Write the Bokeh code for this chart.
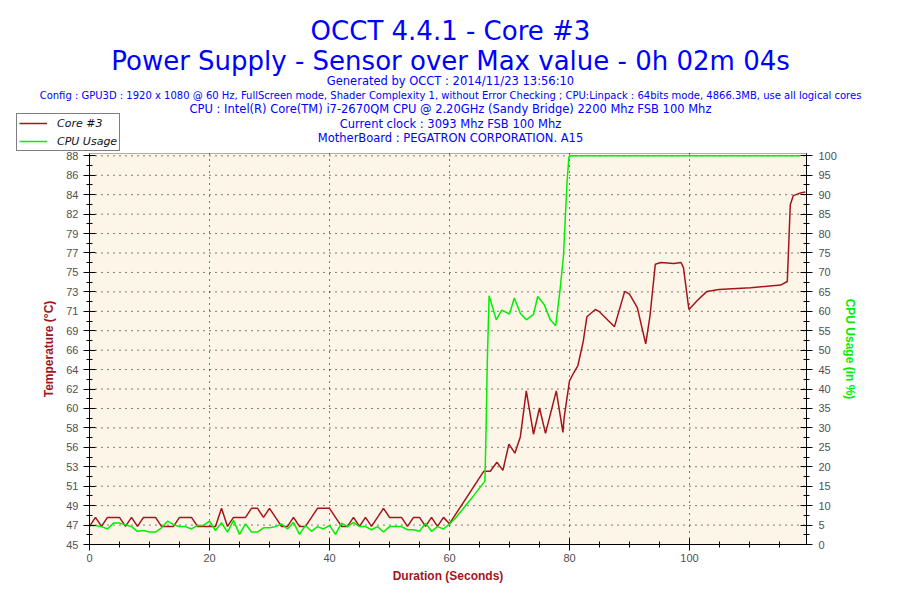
from bokeh.plotting import figure
from bokeh.models import (Range1d, LinearAxis, FixedTicker, Label, Legend, LegendItem, BoxAnnotation)
from bokeh.embed import file_html
from bokeh.resources import INLINE

# ---------------- data ----------------
temp_time = [0, 1, 2, 3, 4, 5, 6, 7, 8, 9, 10, 11, 12, 13, 14, 15, 16, 17, 18, 19,
             20, 21, 22, 23, 24, 25, 26, 27, 28, 29, 30, 31, 32, 33, 34, 35, 36, 37, 38, 39,
             40, 41, 42, 43, 44, 45, 46, 47, 48, 49, 50, 51, 52, 53, 54, 55, 56, 57, 58, 59,
             60, 65.7, 66.8, 67.9, 68.9, 69.9, 70.9, 71.8, 72.8, 74.0, 75.0, 76.0, 77.8, 78.9,
             79.1, 80.0, 80.7, 81.4, 82.3, 82.9, 84.3, 84.9, 87.5, 89.2, 90.0, 91.3, 92.7, 93.4,
             94.3, 95.2, 97.4, 98.6, 99.0, 99.9, 101.3, 102.9, 104.9, 110.2, 115.2, 116.3,
             116.8, 117.3, 118.5, 119.3]
temp_core3 = [47, 48, 47, 48, 48, 48, 47, 48, 47, 48, 48, 48, 47, 47, 47, 48, 48, 48, 47, 47,
              47, 47, 49, 47, 48, 48, 48, 49, 49, 48, 49, 48, 47, 47, 48, 47, 47, 48, 49, 49,
              49, 48, 47, 47, 48, 47, 48, 47, 48, 49, 48, 48, 48, 47, 48, 48, 47, 48, 47, 48,
              47.3, 53.1, 53.1, 54.1, 53.2, 56.1, 55.1, 56.9, 62.0, 57.2, 60.1, 57.3, 62.0, 57.4,
              59.0, 63.1, 64.0, 64.8, 67.5, 70.2, 71.0, 70.8, 69.1, 73.0, 72.7, 71.2, 67.2, 70.2,
              76.0, 76.2, 76.1, 76.2, 75.6, 71.0, 72.0, 73.0, 73.2, 73.4, 73.7, 74.1,
              82.6, 83.6, 83.9, 84.0]

cpu_time = [0, 1, 2, 3, 4, 5, 6, 7, 8, 9, 10, 11, 12, 13, 14, 15, 16, 17, 18, 19,
            20, 21, 22, 23, 24, 25, 26, 27, 28, 29, 30, 31, 32, 33, 34, 35, 36, 37, 38, 39,
            40, 41, 42, 43, 44, 45, 46, 47, 48, 49, 50, 51, 52, 53, 54, 55, 56, 57, 58, 59,
            60, 61, 62, 63, 64, 65, 65.9, 66.1, 66.3, 66.6, 67.8, 68.7, 70.0, 70.8, 71.8, 72.8,
            74.0, 74.7, 75.8, 76.8, 77.7, 78.4, 79.0, 79.3, 79.6, 79.9, 80.2, 118.5]
cpu_usage = [4.9, 4.9, 4.6, 4.0, 5.5, 5.5, 5.1, 4.6, 3.4, 3.6, 3.2, 3.2, 4.3, 6.0, 5.1, 4.6, 4.6, 4.0, 4.9, 4.9,
             6.0, 3.6, 5.6, 3.2, 6.2, 2.6, 5.3, 3.2, 3.2, 4.3, 4.3, 4.6, 5.3, 4.0, 5.7, 2.6, 4.9, 3.4, 4.6, 4.0,
             4.9, 2.6, 5.5, 4.6, 5.7, 4.6, 4.6, 3.8, 4.6, 3.2, 4.6, 4.6, 4.6, 3.8, 3.8, 3.4, 5.5, 3.4, 4.6, 4.0,
             5.3, 6.8, 8.7, 10.6, 12.5, 14.5, 16.3, 30.0, 47.0, 64.0, 57.8, 60.3, 59.3, 63.4, 59.5, 57.8,
             59.2, 63.8, 61.7, 57.8, 56.3, 65.2, 74.3, 84.1, 93.5, 99.7, 100, 100]

temp_tick_labels = ["45", "47", "49", "51", "53", "56", "58", "60", "62", "64", "66",
                    "69", "71", "73", "75", "77", "79", "82", "84", "86", "88"]
cpu_ticks = [0, 5, 10, 15, 20, 25, 30, 35, 40, 45, 50, 55, 60, 65, 70, 75, 80, 85, 90, 95, 100]
x_ticks = [0, 20, 40, 60, 80, 100]
x_minor = [5, 10, 15, 25, 30, 35, 45, 50, 55, 65, 70, 75, 85, 90, 95, 105, 110, 115]

title1 = "OCCT 4.4.1 - Core #3"
title2 = "Power Supply - Sensor over Max value - 0h 02m 04s"
info_lines = [
    "Generated by OCCT : 2014/11/23 13:56:10",
    "Config : GPU3D : 1920 x 1080 @ 60 Hz, FullScreen mode, Shader Complexity 1, without Error Checking ; CPU:Linpack : 64bits mode, 4866.3MB, use all logical cores",
    "CPU : Intel(R) Core(TM) i7-2670QM CPU @ 2.20GHz (Sandy Bridge) 2200 Mhz FSB 100 Mhz",
    "Current clock : 3093 Mhz FSB 100 Mhz",
    "MotherBoard : PEGATRON CORPORATION. A15",
]

# ---------------- layout / styling ----------------
RED = "#A3151B"
GREEN = "#00F000"
BLUE = "#0000FF"
CREAM = "#FDF6E8"
W, H = 884, 584
# pixel box of the plotting area inside the canvas
PA_L, PA_R, PA_T, PA_B = 89, 806, 153, 544
X_MAX = 119.5
TEMP_LO, TEMP_HI = 45, 88
CPU_LO, CPU_HI = 0, 100
HEAD = 1.006
TEMP_TOP = TEMP_LO + (TEMP_HI - TEMP_LO) * HEAD
CPU_TOP = CPU_LO + (CPU_HI - CPU_LO) * HEAD

# the frame fills the canvas; ranges are widened so the plotting area sits at PA_*
xs = (PA_R - PA_L) / X_MAX
ts = (PA_B - PA_T) / (TEMP_TOP - TEMP_LO)
cs = (PA_B - PA_T) / (CPU_TOP - CPU_LO)
x_range = Range1d(-PA_L / xs, X_MAX + (W - PA_R) / xs)
t_range = Range1d(TEMP_LO - (H - PA_B) / ts, TEMP_LO + PA_B / ts)
c_range = Range1d(CPU_LO - (H - PA_B) / cs, CPU_LO + PA_B / cs)

p = figure(width=W, height=H, output_backend="svg", toolbar_location=None,
           x_range=x_range, y_range=t_range,
           min_border=0, min_border_left=0, min_border_right=0,
           min_border_top=0, min_border_bottom=0,
           background_fill_color="white", border_fill_color="white",
           outline_line_color=None)
p.extra_y_ranges = {"cpu": c_range}
p.xaxis.visible = False
p.yaxis.visible = False
p.xgrid.visible = False
p.ygrid.visible = False

# plotting area background and border
p.add_layout(BoxAnnotation(left=0, right=X_MAX, bottom=TEMP_LO, top=TEMP_TOP,
                           fill_color=CREAM, fill_alpha=1, line_color="black",
                           line_width=1, level="underlay"))

step = (TEMP_HI - TEMP_LO) / 20
temp_ticks = [TEMP_LO + step * k for k in range(21)]
temp_minor = [TEMP_LO + step * (k + 0.5) for k in range(20)]

# dotted grid at the major ticks
gx = x_ticks[1:]
p.segment(x0=gx, y0=[TEMP_LO] * len(gx), x1=gx, y1=[TEMP_TOP] * len(gx),
          line_color="black", line_dash="1 5", line_width=1)
gy = temp_ticks[1:]
p.segment(x0=[0] * len(gy), y0=gy, x1=[X_MAX] * len(gy), y1=gy,
          line_color="black", line_dash="1 5", line_width=1)

tick_font = "Liberation Sans"
def style_axis(ax, color_title):
    ax.axis_line_color = "black"
    ax.major_tick_line_color = "black"
    ax.minor_tick_line_color = "black"
    ax.major_tick_in = 6
    ax.major_tick_out = 6
    ax.minor_tick_in = 3
    ax.minor_tick_out = 3
    ax.major_label_text_font = tick_font
    ax.major_label_text_font_size = "11px"
    ax.major_label_text_color = "#505050"
    ax.axis_label_text_font = tick_font
    ax.axis_label_text_font_size = "12px"
    ax.axis_label_text_font_style = "bold"
    ax.axis_label_text_color = color_title

left = LinearAxis(ticker=FixedTicker(ticks=temp_ticks, minor_ticks=temp_minor),
                  axis_label="Temperature (°C)", fixed_location=0, bounds=(TEMP_LO, TEMP_TOP))
left.major_label_overrides = {t: lab for t, lab in zip(temp_ticks, temp_tick_labels)}
style_axis(left, RED)
left.major_label_standoff = 5
left.axis_label_standoff = 7
p.add_layout(left, "left")

right = LinearAxis(y_range_name="cpu", axis_label="CPU Usage (in %)",
                   ticker=FixedTicker(ticks=cpu_ticks, minor_ticks=[t + 2.5 for t in cpu_ticks[:-1]]),
                   fixed_location=X_MAX, bounds=(CPU_LO, CPU_TOP))
style_axis(right, GREEN)
right.major_label_standoff = 6
right.axis_label_standoff = 3
p.add_layout(right, "right")

bottom = LinearAxis(axis_label="Duration (Seconds)",
                    ticker=FixedTicker(ticks=x_ticks, minor_ticks=x_minor),
                    fixed_location=TEMP_LO, bounds=(0, X_MAX))
style_axis(bottom, RED)
bottom.major_label_standoff = 3
bottom.axis_label_standoff = 4
p.add_layout(bottom, "below")

r_temp = p.line(temp_time, temp_core3, line_color=RED, line_width=1.5)
r_cpu = p.line(cpu_time, cpu_usage, line_color=GREEN, line_width=1.5, y_range_name="cpu")

# legend at the top-left, outside the plotting area
legend = Legend(items=[LegendItem(label="Core #3", renderers=[r_temp]),
                       LegendItem(label="CPU Usage", renderers=[r_cpu])],
                location=(16, H - 151))
legend.border_line_color = "black"
legend.border_line_width = 1
legend.background_fill_color = "white"
legend.background_fill_alpha = 1
legend.padding = 2
legend.spacing = 4
legend.margin = 0
legend.glyph_width = 28
legend.glyph_height = 14
legend.label_height = 14
legend.label_standoff = 10
legend.label_text_font = "DejaVu Sans"
legend.label_text_font_style = "italic"
legend.label_text_font_size = "11px"
legend.label_text_color = "#101020"
p.add_layout(legend, "center")

# header texts (screen units from the canvas bottom-left)
def put(text, x, y_top, size):
    p.add_layout(Label(x=x, y=H - y_top, x_units="screen", y_units="screen",
                       text=text, text_align="center", text_baseline="alphabetic",
                       text_font="DejaVu Sans", text_font_size=size, text_color=BLUE))

put(title1, 450, 30, "26px")
put(title2, 450, 60, "26px")
info_sizes = ["11.5px", "10px", "11.5px", "11.5px", "11.5px"]
for txt, yb, sz in zip(info_lines, [80, 94.5, 108.5, 123, 137], info_sizes):
    put(txt, 450, yb, sz)

open("out.html", "w").write(file_html(p, INLINE))
